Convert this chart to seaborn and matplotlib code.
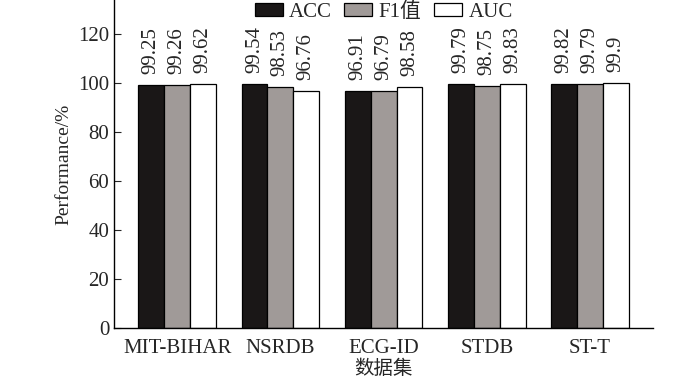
import pandas as pd
import seaborn as sns
import matplotlib.pyplot as plt

datasets = ['MIT-BIHAR', 'NSRDB', 'ECG-ID', 'STDB', 'ST-T']
metrics = ['ACC', 'F1值', 'AUC']
acc = [99.25, 99.54, 96.91, 99.79, 99.82]
f1 = [99.26, 98.53, 96.79, 98.75, 99.79]
auc = [99.62, 96.76, 98.58, 99.83, 99.9]
colors = ['#1a1717', '#a09a98', '#ffffff']

rows = []
for name, vals in zip(metrics, [acc, f1, auc]):
    for d, v in zip(datasets, vals):
        rows.append({'dataset': d, 'metric': name, 'value': v})
df = pd.DataFrame(rows)

sns.set_style('ticks')
plt.rcParams['font.family'] = ['Liberation Serif', 'Noto Sans CJK SC']

fig = plt.figure(figsize=(7, 3.8), dpi=100)
ax = fig.add_axes([0.163, 0.137, 0.77, 0.863])
sns.barplot(data=df, x='dataset', y='value', hue='metric', order=datasets,
            hue_order=metrics, palette=colors, width=0.75, edgecolor='black',
            linewidth=0.9, saturation=1, ax=ax)

for cont in ax.containers:
    ax.bar_label(cont, labels=[f'{v:g}' for v in cont.datavalues],
                 rotation=90, padding=8, fontsize=15)

ax.set_ylim(0, 134)
ax.set_xlim(-0.61, 4.61)
ax.set_yticks([0, 20, 40, 60, 80, 100, 120])
ax.tick_params(axis='y', direction='in', length=5, labelsize=15)
ax.tick_params(axis='x', length=0, labelsize=15, pad=8)
ax.set_ylabel('Performance/%', fontsize=14)
ax.set_xlabel('数据集', fontsize=14, labelpad=1)
for s in ['top', 'right']:
    ax.spines[s].set_visible(False)
for s in ['left', 'bottom']:
    ax.spines[s].set_linewidth(1.0)
    ax.spines[s].set_color('black')

ax.legend(ncol=3, frameon=False, loc='upper center', bbox_to_anchor=(0.5, 1.05),
          fontsize=15, handlelength=1.35, handleheight=0.6, columnspacing=0.6,
          handletextpad=0.3)

fig.savefig('out.png', dpi=100)
